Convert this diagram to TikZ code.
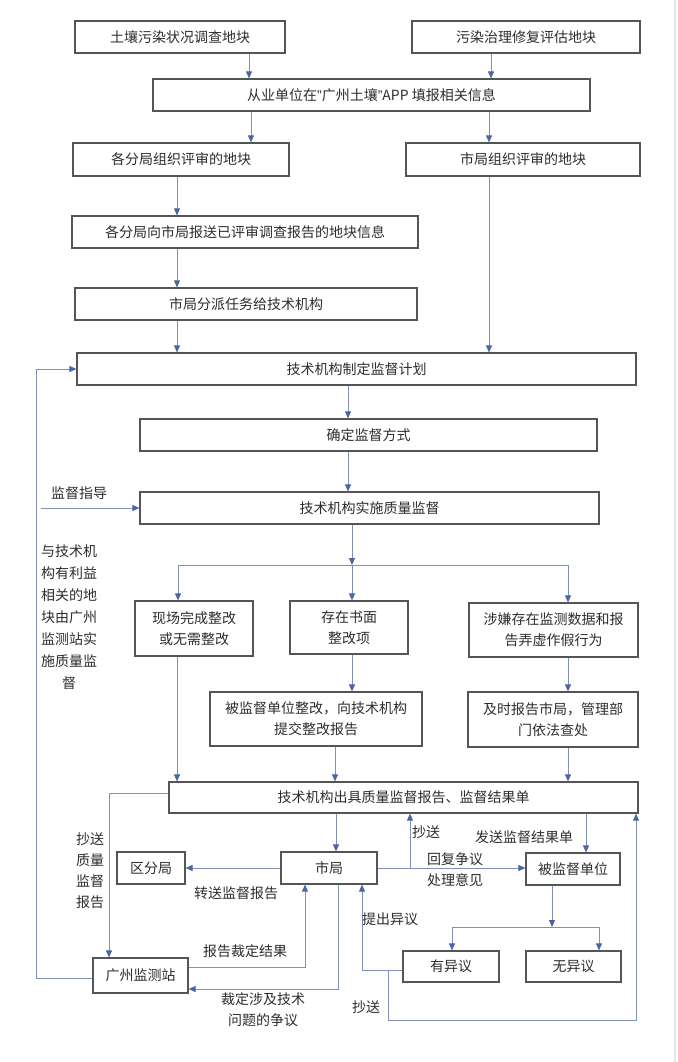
\documentclass[tikz,border=0pt]{standalone}
\usepackage{fontspec}
\setmainfont{Noto Sans CJK SC}
\newfontfamily\latinq{Liberation Sans}
\usetikzlibrary{arrows.meta}
\definecolor{boxc}{RGB}{85,85,85}
\definecolor{linec}{RGB}{128,145,185}
\definecolor{tipc}{RGB}{75,100,165}
\definecolor{txtc}{RGB}{45,45,45}
\definecolor{edgec}{RGB}{224,231,238}
\newcommand\fs{\fontsize{14}{21}\selectfont}
\newcommand\fsl{\fontsize{14}{22}\selectfont}
\tikzset{
  box/.style={draw=boxc, line width=1.2pt, fill=white, inner sep=0pt, align=center, text=txtc, font=\fs},
  con/.style={draw=linec, line width=0.9pt},
  arr/.style={con, -{Triangle[width=6pt,length=7pt,color=tipc]}},
  lbl/.style={text=txtc, font=\fs, inner sep=0pt, align=center},
}
\newcommand\bx[6]{\node[box, minimum width={#4pt-#2pt}, minimum height={#5pt-#3pt}] (#1) at ({(#2+#4)/2},{(#3+#5)/2}) {#6};}
\begin{document}
\begin{tikzpicture}[x=1pt,y=-1pt]
\useasboundingbox[fill=white] (0,0) rectangle (677,1062);
\draw[edgec, line width=2pt] (675,0) -- (675,1062);

% boxes
\bx{b1}{75}{21}{285}{53}{土壤污染状况调查地块}
\bx{b2}{412}{21}{640}{53}{污染治理修复评估地块}
\bx{b3}{153}{79}{590}{111}{从业单位在{\latinq ”}广州土壤{\latinq ”}APP 填报相关信息}
\bx{b4}{73}{143}{289}{176}{各分局组织评审的地块}
\bx{b5}{406}{143}{640}{176}{市局组织评审的地块}
\bx{b6}{72}{216}{418}{248}{各分局向市局报送已评审调查报告的地块信息}
\bx{b7}{75}{288}{417}{320}{市局分派任务给技术机构}
\bx{b8}{77}{353}{636}{385}{技术机构制定监督计划}
\bx{b9}{140}{419}{597}{451}{确定监督方式}
\bx{b10}{140}{492}{599}{524}{技术机构实施质量监督}
\bx{b11}{135}{601}{253}{656}{现场完成整改\\或无需整改}
\bx{b12}{290}{601}{408}{654}{存在书面\\整改项}
\bx{b13}{469}{603}{638}{657}{涉嫌存在监测数据和报\\告弄虚作假行为}
\bx{b14}{210}{692}{422}{746}{被监督单位整改，向技术机构\\提交整改报告}
\bx{b15}{468}{692}{638}{747}{及时报告市局，管理部\\门依法查处}
\bx{b16}{169}{782}{638}{813}{技术机构出具质量监督报告、监督结果单}
\bx{b17}{117}{852}{185}{884}{区分局}
\bx{b18}{281}{852}{377}{884}{市局}
\bx{b19}{526}{853}{620}{885}{被监督单位}
\bx{b20}{403}{951}{499}{982}{有异议}
\bx{b21}{526}{951}{621}{982}{无异议}
\bx{b22}{93}{958}{188}{993}{广州监测站}

% coordinates
\coordinate (j1) at (352,565);
\coordinate (jl) at (178,565);
\coordinate (jr) at (568,565);
\coordinate (j2) at (552,927);
\coordinate (j2l) at (452,927);
\coordinate (j2r) at (599,927);
\coordinate (gin) at (41,508);

% top connectors
\draw[arr] (249,0 |- b1.south) -- (249,0 |- b3.north);
\draw[arr] (491,0 |- b2.south) -- (491,0 |- b3.north);
\draw[arr] (251,0 |- b3.south) -- (251,0 |- b4.north);
\draw[arr] (489,0 |- b3.south) -- (489,0 |- b5.north);
\draw[arr] (177,0 |- b4.south) -- (177,0 |- b6.north);
\draw[arr] (177,0 |- b6.south) -- (177,0 |- b7.north);
\draw[arr] (177,0 |- b7.south) -- (177,0 |- b8.north);
\draw[arr] (489,0 |- b5.south) -- (489,0 |- b8.north);
\draw[arr] (348,0 |- b8.south) -- (348,0 |- b9.north);
\draw[arr] (348,0 |- b9.south) -- (348,0 |- b10.north);
\draw[arr] (gin) -- (b10.west |- gin);

% branch
\draw[arr] (352,0 |- b10.south) -- (j1);
\draw[con] (jl) -- (jr);
\draw[arr] (jl) -- (jl |- b11.north);
\draw[arr] (j1) -- (j1 |- b12.north);
\draw[arr] (jr) -- (jr |- b13.north);
\draw[arr] (177,0 |- b11.south) -- (177,0 |- b16.north);
\draw[arr] (352,0 |- b12.south) -- (352,0 |- b14.north);
\draw[arr] (335,0 |- b14.south) -- (335,0 |- b16.north);
\draw[arr] (568,0 |- b13.south) -- (568,0 |- b15.north);
\draw[arr] (568,0 |- b15.south) -- (568,0 |- b16.north);

% lower part
\draw[arr] (b22.west |- 0,978) -- (36,978) -- (36,0 |- b8.west) -- (b8.west);
\draw[arr] (b16.west |- 0,793) -- (109,793) -- (109,0 |- b22.north);
\draw[arr] (336,0 |- b16.south) -- (336,0 |- b18.north);
\draw[arr] (b18.west) -- (b17.east);
\draw[arr] (b18.east) -- (b19.west |- b18.east);
\draw[arr] (410,0 |- b18.east) -- (410,0 |- b16.south);
\draw[arr] (586,0 |- b16.south) -- (586,0 |- b19.north);
\draw[arr] (552,0 |- b19.south) -- (j2);
\draw[con] (j2l) -- (j2r);
\draw[arr] (j2l) -- (j2l |- b20.north);
\draw[arr] (j2r) -- (j2r |- b21.north);
\draw[arr] (b20.west |- 0,970) -- (362,970) -- (362,0 |- b18.south);
\draw[arr] (388,970) -- (388,1020) -- (636,1020) -- (636,0 |- b16.south);
\draw[arr] (b22.east |- 0,967) -- (305,967) -- (305,0 |- b18.south);
\draw[arr] (338,0 |- b18.south) -- (338,989) -- (b22.east |- 0,989);

% labels
\node[lbl] (l1) at (79,493) {监督指导};
\node[lbl, font=\fsl] (l2) at (69,617) {与技术机\\构有利益\\相关的地\\块由广州\\监测站实\\施质量监\\督};
\node[lbl] (l3) at (90,870.5) {抄送\\质量\\监督\\报告};
\node[lbl] (l4) at (236,893) {转送监督报告};
\node[lbl] (l5) at (426,832) {抄送};
\node[lbl] (l6) at (524,837) {发送监督结果单};
\node[lbl] (l7) at (455,869.5) {回复争议\\处理意见};
\node[lbl] (l8) at (390,919) {提出异议};
\node[lbl] (l9) at (245,951) {报告裁定结果};
\node[lbl] (l10) at (263,1009.5) {裁定涉及技术\\问题的争议};
\node[lbl] (l11) at (366,1007) {抄送};
\end{tikzpicture}
\end{document}
